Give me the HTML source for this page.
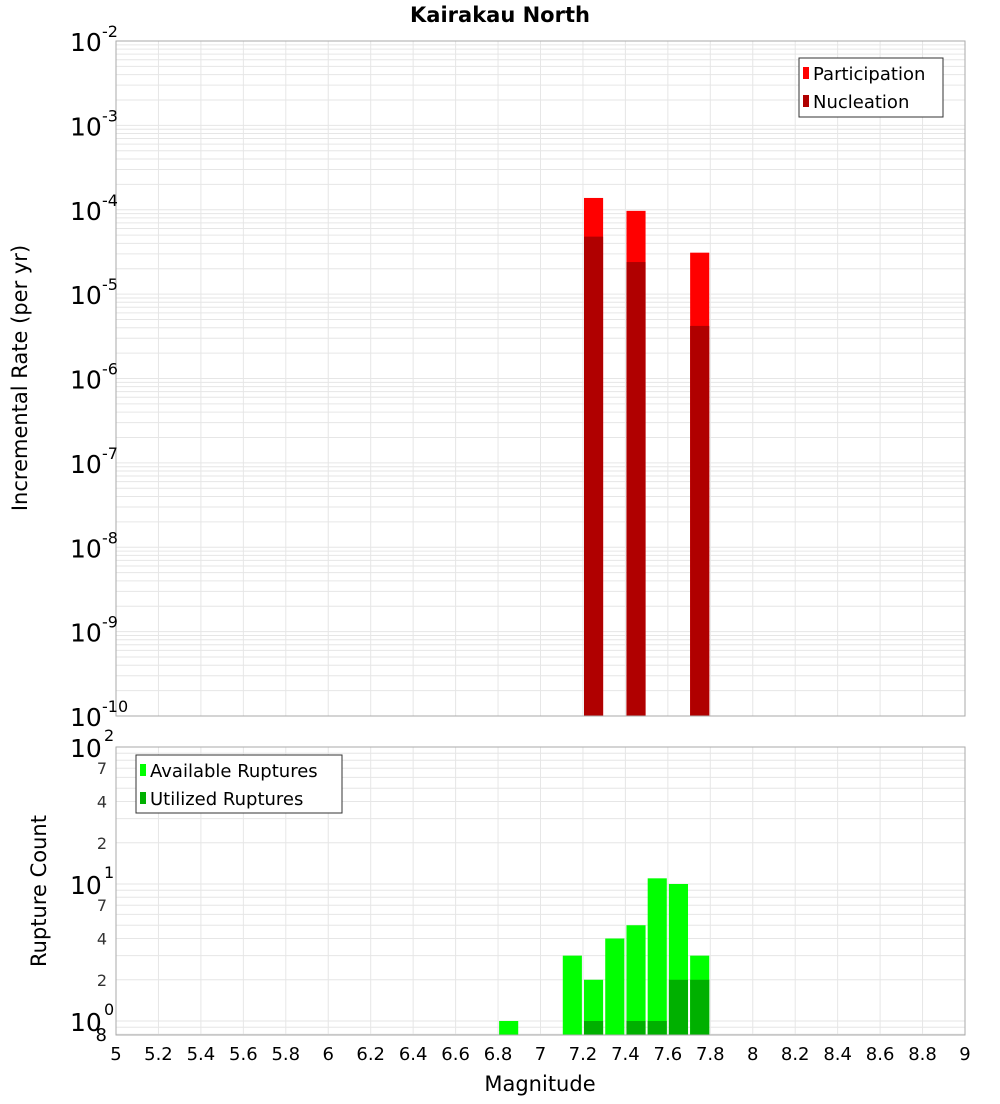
<!DOCTYPE html>
<html><head><meta charset="utf-8"><style>
body{margin:0;background:#fff;font-family:"DejaVu Sans","Liberation Sans",sans-serif;}
svg text{font-family:"DejaVu Sans","Liberation Sans",sans-serif;}
</style></head><body>
<svg id="c" width="1000" height="1100" xmlns="http://www.w3.org/2000/svg">
<text x="500" y="22" text-anchor="middle" font-size="21" font-weight="bold">Kairakau North</text>
<g id="top"></g>
<g id="bot"></g>
<text transform="translate(27,378) rotate(-90)" text-anchor="middle" font-size="21">Incremental Rate (per yr)</text>
<text transform="translate(46,891) rotate(-90)" text-anchor="middle" font-size="21">Rupture Count</text>
<text x="540" y="1091" text-anchor="middle" font-size="21">Magnitude</text>
</svg>
<script>
const mags=[7.25,7.45,7.75];
const participation=[1.38e-4,9.7e-5,3.1e-5];
const nucleation=[4.8e-5,2.4e-5,4.2e-6];
const countMags=[6.85,7.15,7.25,7.35,7.45,7.55,7.65,7.75];
const available=[1,3,2,4,5,11,10,3];
const utilized=[0,0,1,0,1,1,2,2];
const xTicks=[5,5.2,5.4,5.6,5.8,6,6.2,6.4,6.6,6.8,7,7.2,7.4,7.6,7.8,8,8.2,8.4,8.6,8.8,9];
const topExps=[-2,-3,-4,-5,-6,-7,-8,-9,-10];

const NS="http://www.w3.org/2000/svg";
const X0=116,X1=965;
const x=m=>X0+(m-5)/4*(X1-X0);
const T0=41,T1=716;
const yT=v=>T0+(-2-Math.log10(v))/8*(T1-T0);
const B0=747,B1=1035,BD=137;
const yB=v=>B0+(2-Math.log10(v))*BD;
function mk(p,t,a){const e=document.createElementNS(NS,t);for(const k in a)e.setAttribute(k,a[k]);p.appendChild(e);return e;}
const topG=document.getElementById('top'),botG=document.getElementById('bot');

for(let d=-10;d<-2;d++)for(let k=1;k<10;k++){const y=yT(k*Math.pow(10,d));
 const l=mk(topG,'line',{x1:X0,x2:X1,y1:y,y2:y,stroke:'#e6e6e6','stroke-width':1});
 
 }
for(const t of xTicks){const l=mk(topG,'line',{x1:x(t),x2:x(t),y1:T0,y2:T1,stroke:'#e6e6e6'});
 
 }
mags.forEach((m,i)=>{
 const r=mk(topG,'rect',{x:x(m-0.045),width:x(m+0.045)-x(m-0.045),y:yT(participation[i]),height:T1-yT(participation[i]),fill:'#ff0000'});
 
 
 const n=mk(topG,'rect',{x:x(m-0.045),width:x(m+0.045)-x(m-0.045),y:yT(nucleation[i]),height:T1-yT(nucleation[i]),fill:'#b00000'});
 
 
});
mk(topG,'rect',{x:X0,y:T0,width:X1-X0,height:T1-T0,fill:'none',stroke:'#aaa'});
topExps.forEach(e=>{const y=yT(Math.pow(10,e));
 const t=mk(topG,'text',{x:70,y:y+10,'font-size':25});
 
 
 t.textContent='10';
 const s=mk(topG,'text',{x:102,y:y-4,'font-size':16});s.textContent=String(e);
});
const lg=mk(topG,'g',{});


mk(lg,'rect',{x:799,y:58,width:144,height:59,fill:'#fff',stroke:'#333'});
mk(lg,'rect',{x:803,y:67,width:6,height:12,fill:'#ff0000'});
mk(lg,'rect',{x:803,y:95,width:6,height:12,fill:'#b00000'});
let t1=mk(lg,'text',{x:813,y:80,'font-size':18});t1.textContent='Participation';
let t2=mk(lg,'text',{x:813,y:108,'font-size':18});t2.textContent='Nucleation';

for(let d=-1;d<2;d++)for(let k=1;k<10;k++){const y=yB(k*Math.pow(10,d));if(y>B1||y<B0)continue;
 const l=mk(botG,'line',{x1:X0,x2:X1,y1:y,y2:y,stroke:'#e6e6e6'});
 
 }
for(const t of xTicks){const l=mk(botG,'line',{x1:x(t),x2:x(t),y1:B0,y2:B1,stroke:'#e6e6e6'});
 
 }
countMags.forEach((m,i)=>{
 const y=yB(available[i]);
 const r=mk(botG,'rect',{x:x(m-0.045),width:x(m+0.045)-x(m-0.045),y:y,height:B1-y,fill:'#00ff00'});
 
 
 if(utilized[i]>0){const yu=yB(utilized[i]);
  const u=mk(botG,'rect',{x:x(m-0.045),width:x(m+0.045)-x(m-0.045),y:yu,height:B1-yu,fill:'#00b000'});
  
  }
});
mk(botG,'rect',{x:X0,y:B0,width:X1-X0,height:B1-B0,fill:'none',stroke:'#aaa'});
[[2,'10','2'],[1,'10','1'],[0,'10','0']].forEach(([e,b,s])=>{const y=yB(Math.pow(10,e));
 const t=mk(botG,'text',{x:70,y:y+10,'font-size':25});t.textContent=b;
 
 
 const u=mk(botG,'text',{x:104,y:y-6,'font-size':16});u.textContent=s;});
[7,4,2,70,40,20].forEach(v=>{
 const t=mk(botG,'text',{x:107,y:yB(v)+6,'font-size':16,'text-anchor':'end',fill:'#333'});
 
 
 t.textContent=String(v>9?v/10:v);});
let e8=mk(botG,'text',{x:107,y:1041,'font-size':18,'text-anchor':'end'});e8.textContent='8';
xTicks.forEach(t=>{const l=mk(botG,'text',{x:x(t),y:1060,'font-size':18,'text-anchor':'middle'});
 
 
 l.textContent=String(t);});
const lb=mk(botG,'g',{});


mk(lb,'rect',{x:136,y:755,width:206,height:58,fill:'#fff',stroke:'#333'});
mk(lb,'rect',{x:140,y:764,width:6,height:12,fill:'#00ff00'});
mk(lb,'rect',{x:140,y:792,width:6,height:12,fill:'#00b000'});
let t3=mk(lb,'text',{x:150,y:777,'font-size':18});t3.textContent='Available Ruptures';
let t4=mk(lb,'text',{x:150,y:805,'font-size':18});t4.textContent='Utilized Ruptures';
</script>
</body></html>
